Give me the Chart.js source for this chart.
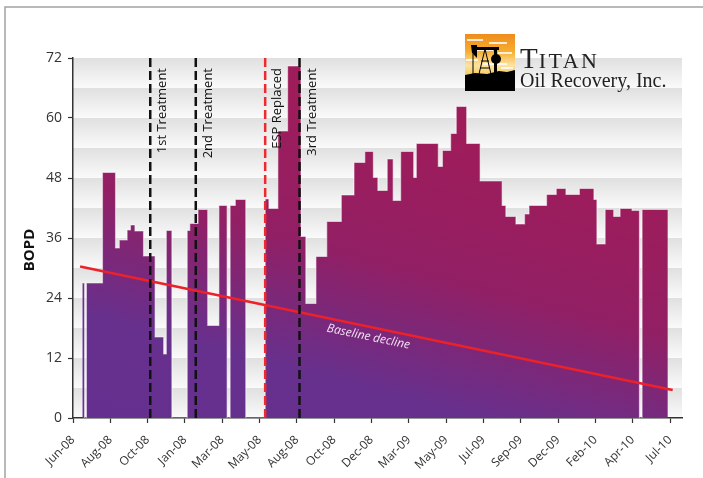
<!DOCTYPE html>
<html lang="en">
<head>
<meta charset="UTF-8">
<title>Titan Oil Recovery - BOPD</title>
<script src="https://cdn.jsdelivr.net/npm/chart.js"></script>
<style>
  body { margin: 0; background: #fff; }
  #wrap { width: 703px; height: 478px; }
</style>
</head>
<body>
<div id="wrap"><canvas id="bopdChart" width="703" height="478"></canvas></div>

<script>
    // x is counted in "periods": 10 periods between two date labels (labels are as printed on the original)
    const xLabels = ["Jun-08", "Aug-08", "Oct-08", "Jan-08", "Mar-08", "May-08", "Aug-08", "Oct-08", "Dec-08",
        "Mar-09", "May-09", "Jul-09", "Sep-09", "Dec-09", "Feb-10", "Apr-10", "Jul-10"];
    const yTicks = [0, 12, 24, 36, 48, 60, 72];
    const xMax = 163.2;

    // production steps: where each step starts and its BOPD (0 = no production)
    const stepStart = [2.5, 3.1, 3.6, 7.9, 11.4, 12.4, 14.5, 15.4, 16.6, 18.9, 22.0, 24.3, 25.0, 26.5,
        30.6, 31.3, 33.5, 36.1, 39.1, 41.3, 42.1, 43.5, 46.3,
        51.5, 52.5, 54.9, 57.5, 61.1, 62.4, 65.1, 68.0, 71.9, 75.3, 78.2, 80.5, 81.7, 84.2, 85.8,
        87.8, 91.3, 92.0, 97.9, 99.0, 101.2, 102.7, 105.5, 109.1, 115.0, 116.0, 118.7, 121.0, 122.2,
        126.9, 129.5, 132.1, 135.7, 139.6, 140.4, 142.6, 144.9, 146.6, 149.8, 151.8, 152.5];
    const stepValue = [27, 0, 27, 49.1, 34, 35.6, 37.6, 38.6, 37.4, 32.4, 16.2, 12.8, 37.5, 0,
        37.5, 38.9, 41.7, 18.5, 42.5, 0, 42.5, 43.7, 0,
        43.8, 41.9, 57.4, 70.4, 36.3, 22.9, 32.3, 39.3, 44.6, 51.1, 53.3, 48.1, 45.5, 51.8, 43.5,
        53.3, 48.1, 54.9, 50.3, 53.5, 56.9, 62.3, 54.9, 47.4, 42.5, 40.3, 38.8, 40.8, 42.5,
        44.7, 45.9, 44.7, 45.9, 43.7, 34.8, 41.7, 40.3, 41.9, 41.5, 0, 41.7];
    const lastPeriod = 159.4;

    // events and the baseline decline
    const markerNames = ["1st Treatment", "2nd Treatment", "ESP Replaced", "3rd Treatment"];
    const markerX = [20.7, 32.9, 51.5, 60.7];
    const baselineX = [1.9, 160.7];
    const baselineY = [30.3, 5.6];

    Chart.defaults.font.family = "'Open Sans', 'DejaVu Sans', sans-serif";
    Chart.defaults.color = "#333";

    let stepPoints = stepStart.map((x, i) => ({ x: x, y: stepValue[i] }));
    stepPoints.push({ x: lastPeriod, y: stepValue[stepValue.length - 1] });

    function areaGradient(context) {
        const area = context.chart.chartArea;
        if (!area) return "#66308e";
        // slightly tilted, purple at the bottom left to crimson at the top right
        const g = context.chart.ctx.createLinearGradient(area.left, area.bottom, area.left + 94, area.top);
        g.addColorStop(0, "#642f8f");
        g.addColorStop(0.28, "#67308d");
        g.addColorStop(0.62, "#921f64");
        g.addColorStop(1, "#9f1c5a");
        return g;
    }

    let datasets = [];

    markerNames.forEach((name, i) => {
        datasets.push({
            label: name,
            data: [{ x: markerX[i], y: 0 }, { x: markerX[i], y: yTicks[yTicks.length - 1] }],
            borderColor: name === "ESP Replaced" ? "#ec2a2f" : "#111",
            borderWidth: 2.5,
            borderDash: [9, 4],
            pointRadius: 0,
            order: 1
        });
    });

    datasets.push({
        label: "Baseline decline",
        data: baselineX.map((x, i) => ({ x: x, y: baselineY[i] })),
        borderColor: "#ec2129",
        borderWidth: 2.5,
        pointRadius: 0,
        order: 2
    });

    datasets.push({
        label: "BOPD",
        data: stepPoints,
        stepped: true,
        fill: "origin",
        backgroundColor: areaGradient,
        borderColor: "rgba(255, 255, 255, 0.5)",
        borderWidth: 1.2,
        pointRadius: 0,
        order: 3
    });

    // grey frame and the banded plot background
    const backdrop = {
        id: "backdrop",
        beforeDraw(chart) {
            const { ctx, chartArea: a, scales: { y } } = chart;
            ctx.save();
            ctx.strokeStyle = "#a3a3a3";
            ctx.lineWidth = 1.5;
            ctx.beginPath();
            ctx.moveTo(5, chart.height);
            ctx.lineTo(5, 7);
            ctx.lineTo(chart.width, 7);
            ctx.stroke();

            const band = (yTicks[1] - yTicks[0]) / 2;
            for (let v = yTicks[0]; v < yTicks[yTicks.length - 1]; v += band) {
                const top = y.getPixelForValue(v + band);
                const bottom = y.getPixelForValue(v);
                const g = ctx.createLinearGradient(0, top, 0, bottom);
                g.addColorStop(0, "#e0e0e0");
                g.addColorStop(1, "#fafafa");
                ctx.fillStyle = g;
                ctx.fillRect(a.left, top, a.right - a.left, bottom - top);
            }
            ctx.restore();
        }
    };

    function drawLogo(ctx) {
        const L = 465, T = 34, W = 50, H = 57;
        const sky = ctx.createLinearGradient(0, T, 0, T + H);
        sky.addColorStop(0, "#ef8b1d");
        sky.addColorStop(0.3, "#f6ad2f");
        sky.addColorStop(0.55, "#fde3a2");
        sky.addColorStop(0.75, "#f8c653");
        sky.addColorStop(1, "#f1a72c");
        ctx.fillStyle = sky;
        ctx.fillRect(L, T, W, H);

        // cloud streaks
        ctx.fillStyle = "rgba(255, 255, 255, 0.8)";
        [[2, 5, 16], [24, 8, 18], [8, 15, 20], [33, 18, 14], [1, 25, 12], [18, 29, 24], [36, 33, 12]].forEach(s => {
            ctx.fillRect(L + s[0], T + s[1], s[2], 2);
        });

        ctx.fillStyle = "#000";
        ctx.strokeStyle = "#000";
        // ground
        ctx.beginPath();
        ctx.moveTo(L, T + H);
        ctx.lineTo(L, T + 41);
        ctx.lineTo(L + 10, T + 39);
        ctx.lineTo(L + 22, T + 40);
        ctx.lineTo(L + 34, T + 37);
        ctx.lineTo(L + 42, T + 38);
        ctx.lineTo(L + W, T + 36);
        ctx.lineTo(L + W, T + H);
        ctx.closePath();
        ctx.fill();

        // pumpjack: beam, horse head, samson post, counterweight
        ctx.fillRect(L + 9, T + 13, 25, 3);
        ctx.beginPath();
        ctx.moveTo(L + 6, T + 11);
        ctx.lineTo(L + 12, T + 11);
        ctx.lineTo(L + 12, T + 24);
        ctx.lineTo(L + 7, T + 19);
        ctx.closePath();
        ctx.fill();
        ctx.lineWidth = 1;
        ctx.beginPath();
        ctx.moveTo(L + 8, T + 20);
        ctx.lineTo(L + 8, T + 40);
        ctx.moveTo(L + 20, T + 15);
        ctx.lineTo(L + 14, T + 40);
        ctx.moveTo(L + 20, T + 15);
        ctx.lineTo(L + 26, T + 40);
        ctx.moveTo(L + 16, T + 27);
        ctx.lineTo(L + 24, T + 27);
        ctx.moveTo(L + 15, T + 34);
        ctx.lineTo(L + 25, T + 34);
        ctx.stroke();
        ctx.beginPath();
        ctx.arc(L + 31, T + 25, 5, 0, Math.PI * 2);
        ctx.fill();
        ctx.fillRect(L + 29, T + 15, 3, 24);

        // company name
        ctx.fillStyle = "#222";
        ctx.textAlign = "left";
        ctx.textBaseline = "alphabetic";
        ctx.font = "29px 'Liberation Serif', 'DejaVu Serif', serif";
        ctx.fillText("T", 520, 68);
        const tW = ctx.measureText("T").width;
        ctx.font = "22px 'Liberation Serif', 'DejaVu Serif', serif";
        ctx.letterSpacing = "2.5px";
        ctx.fillText("ITAN", 521 + tW, 68);
        ctx.letterSpacing = "0px";
        ctx.font = "20px 'Liberation Serif', 'DejaVu Serif', serif";
        ctx.fillText("Oil Recovery, Inc.", 520, 87);
    }

    // text on top: event names, baseline name, axis title and the logo
    const notes = {
        id: "notes",
        afterDraw(chart) {
            const { ctx, scales: { x, y } } = chart;
            ctx.save();

            ctx.fillStyle = "#111";
            ctx.font = "13px 'Open Sans', sans-serif";
            ctx.textAlign = "right";
            ctx.textBaseline = "middle";
            markerNames.forEach((name, i) => {
                ctx.save();
                ctx.translate(x.getPixelForValue(markerX[i]) + 12.5, y.getPixelForValue(yTicks[yTicks.length - 1]) + 10);
                ctx.rotate(-Math.PI / 2);
                ctx.fillText(name, 0, 0);
                ctx.restore();
            });

            const x0 = x.getPixelForValue(baselineX[0]), y0 = y.getPixelForValue(baselineY[0]);
            const x1 = x.getPixelForValue(baselineX[1]), y1 = y.getPixelForValue(baselineY[1]);
            const t = 0.49;
            ctx.save();
            ctx.translate(x0 + (x1 - x0) * t, y0 + (y1 - y0) * t);
            ctx.rotate(Math.atan2(y1 - y0, x1 - x0));
            ctx.fillStyle = "#f4def3";
            ctx.font = "italic 12px 'Open Sans', sans-serif";
            ctx.textAlign = "center";
            ctx.fillText("Baseline decline", 0, 10);
            ctx.restore();

            ctx.save();
            ctx.translate(30, 250);
            ctx.rotate(-Math.PI / 2);
            ctx.fillStyle = "#111";
            ctx.font = "bold 15px 'Open Sans', sans-serif";
            ctx.textAlign = "center";
            ctx.fillText("BOPD", 0, 0);
            ctx.restore();

            drawLogo(ctx);
            ctx.restore();
        }
    };

    new Chart(document.getElementById("bopdChart"), {
        type: "line",
        data: { datasets: datasets },
        plugins: [backdrop, notes],
        options: {
            responsive: false,
            animation: false,
            events: [],
            layout: { padding: { top: 58, right: 21, left: 0, bottom: 0 } },
            plugins: {
                legend: { display: false },
                tooltip: { enabled: false }
            },
            scales: {
                x: {
                    type: "linear",
                    min: 0,
                    max: xMax,
                    z: 1,
                    afterBuildTicks: s => { s.ticks = xLabels.map((_, i) => ({ value: i * 10 })); },
                    afterFit: s => { s.height = 60; },
                    grid: { display: true, drawOnChartArea: false, tickLength: 5, color: "#333", tickWidth: 1.2 },
                    border: { display: true, color: "#333", width: 1.5 },
                    ticks: {
                        autoSkip: false,
                        maxRotation: 45,
                        minRotation: 45,
                        padding: 10,
                        font: { size: 12 },
                        callback: v => xLabels[Math.round(v / 10)]
                    }
                },
                y: {
                    min: yTicks[0],
                    max: yTicks[yTicks.length - 1],
                    z: 1,
                    afterBuildTicks: s => { s.ticks = yTicks.map(v => ({ value: v })); },
                    afterFit: s => { s.width = 73; },
                    grid: { display: true, drawOnChartArea: false, tickLength: 5, color: "#333", tickWidth: 1.2 },
                    border: { display: true, color: "#333", width: 1.5 },
                    ticks: { padding: 6, font: { size: 14 } }
                }
            }
        }
    });
</script>
</body>
</html>
